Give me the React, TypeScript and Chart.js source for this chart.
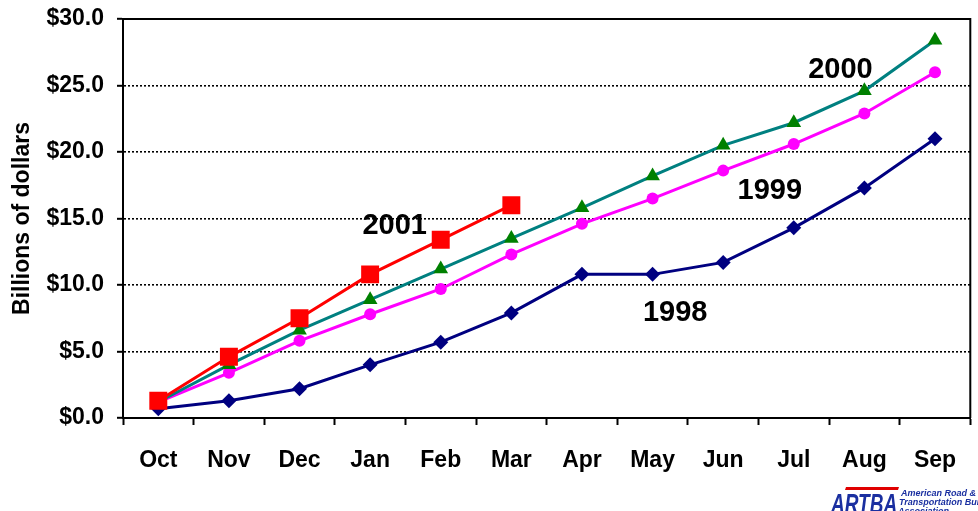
import React, { useEffect, useRef } from "react";
import { Chart, registerables } from "chart.js";

Chart.register(...registerables);

const months = ["Oct", "Nov", "Dec", "Jan", "Feb", "Mar", "Apr", "May", "Jun", "Jul", "Aug", "Sep"];
const values2001 = [1.3, 4.6, 7.5, 10.8, 13.4, 16.0];
const values2000 = [1.2, 4.0, 6.6, 8.9, 11.2, 13.5, 15.8, 18.2, 20.5, 22.2, 24.6, 28.4];
const values1999 = [1.2, 3.4, 5.8, 7.8, 9.7, 12.3, 14.6, 16.5, 18.6, 20.6, 22.9, 26.0];
const values1998 = [0.7, 1.3, 2.2, 4.0, 5.7, 7.9, 10.8, 10.8, 11.7, 14.3, 17.3, 21.0];
const yTicks = [0, 5, 10, 15, 20, 25, 30];
const seriesLabels = [
  { text: "2000", month: "Aug", value: 26.2, dx: -24 },
  { text: "1999", month: "Jul", value: 17.1, dx: -24 },
  { text: "2001", month: "Feb", value: 14.4, dx: -46 },
  { text: "1998", month: "Jun", value: 7.9, dx: -48 },
];

const FONT = "'Liberation Sans', Arial, sans-serif";

const decorPlugin = {
  id: "decor",
  afterDatasetsDraw(chart: any) {
    const { ctx, chartArea } = chart;
    const x = chart.scales.x;
    const y = chart.scales.y;
    ctx.save();
    ctx.strokeStyle = "#000";
    ctx.lineWidth = 2;
    ctx.beginPath();
    ctx.moveTo(chartArea.left, chartArea.top);
    ctx.lineTo(chartArea.right, chartArea.top);
    ctx.lineTo(chartArea.right, chartArea.bottom);
    ctx.stroke();
    ctx.fillStyle = "#000";
    ctx.font = `bold 29px ${FONT}`;
    ctx.textAlign = "center";
    ctx.textBaseline = "middle";
    seriesLabels.forEach((l) => {
      const idx = months.indexOf(l.month);
      ctx.fillText(l.text, x.getPixelForValue(idx) + l.dx, y.getPixelForValue(l.value));
    });
    ctx.restore();
  },
  afterDraw(chart: any) {
    const { ctx } = chart;
    ctx.save();
    ctx.fillStyle = "#e00000";
    ctx.beginPath();
    ctx.moveTo(846, 487);
    ctx.lineTo(899, 487);
    ctx.lineTo(898, 490);
    ctx.lineTo(845, 490);
    ctx.closePath();
    ctx.fill();
    ctx.fillStyle = "#1a2fa0";
    ctx.save();
    ctx.translate(831, 491);
    ctx.scale(1, 1.5);
    ctx.font = `italic bold 19px ${FONT}`;
    ctx.textAlign = "left";
    ctx.textBaseline = "top";
    ctx.fillText("ARTBA", 0, 0);
    ctx.restore();
    ctx.font = `italic bold 9px ${FONT}`;
    ctx.textAlign = "left";
    ctx.textBaseline = "alphabetic";
    ctx.fillText("American Road &", 901, 496);
    ctx.fillText("Transportation Builders", 899, 505);
    ctx.fillText("Association", 898, 514);
    ctx.restore();
  },
};

export default function App() {
  const ref = useRef<HTMLCanvasElement>(null);
  useEffect(() => {
    document.body.style.margin = "0";
    const chart = new Chart(ref.current!, {
      type: "line",
      data: {
        labels: months,
        datasets: [
          {
            label: "2001",
            data: values2001,
            borderColor: "#ff0000",
            backgroundColor: "#ff0000",
            borderWidth: 3,
            pointStyle: "rect",
            pointRadius: 12.7,
            pointBorderWidth: 0,
          },
          {
            label: "2000",
            data: values2000,
            borderColor: "#008080",
            backgroundColor: "#008000",
            pointBorderColor: "#008000",
            borderWidth: 3,
            pointStyle: "triangle",
            pointRadius: 8.5,
            pointBorderWidth: 0,
          },
          {
            label: "1999",
            data: values1999,
            borderColor: "#ff00ff",
            backgroundColor: "#ff00ff",
            borderWidth: 3,
            pointStyle: "circle",
            pointRadius: 6,
            pointBorderWidth: 0,
          },
          {
            label: "1998",
            data: values1998,
            borderColor: "#000080",
            backgroundColor: "#000080",
            borderWidth: 3,
            pointStyle: "rectRot",
            pointRadius: 7.5,
            pointBorderWidth: 0,
          },
        ],
      },
      options: {
        responsive: false,
        animation: false,
        devicePixelRatio: 1,
        layout: { padding: { top: 19, right: 8, left: 0, bottom: 0 } },
        plugins: { legend: { display: false }, tooltip: { enabled: false } },
        scales: {
          x: {
            type: "category",
            offset: true,
            afterFit: (s: any) => {
              s.height = 93;
              s.paddingLeft = 0;
              s.paddingRight = 0;
            },
            grid: {
              display: true,
              offset: true,
              drawOnChartArea: false,
              drawTicks: true,
              tickLength: 7,
              tickColor: "#000",
              tickWidth: 2,
            },
            border: { display: true, color: "#000", width: 2 },
            ticks: {
              color: "#000",
              font: { family: FONT, size: 23, weight: "bold" },
              padding: 22,
              maxRotation: 0,
              autoSkip: false,
            },
          },
          y: {
            min: 0,
            max: 30,
            afterFit: (s: any) => {
              s.width = 123;
              s.paddingTop = 0;
              s.paddingBottom = 0;
            },
            afterBuildTicks: (s: any) => {
              s.ticks = yTicks.map((v) => ({ value: v }));
            },
            grid: {
              color: (c: any) =>
                c.tick && (c.tick.value === 0 || c.tick.value === 30) ? "rgba(0,0,0,0)" : "#000",
              lineWidth: 1.6,
              tickBorderDash: [],
              tickColor: "#000",
              tickWidth: 2,
              tickLength: 6,
            },
            border: { display: true, color: "#000", width: 2, dash: [2, 2] },
            ticks: {
              color: "#000",
              font: { family: FONT, size: 23, weight: "bold" },
              padding: 13,
              callback: (v: any) => "$" + Number(v).toFixed(1),
            },
            title: {
              display: true,
              text: "Billions of dollars",
              color: "#000",
              font: { family: FONT, size: 23, weight: "bold" },
              padding: { top: 9, bottom: 0 },
            },
          },
        },
      },
      plugins: [decorPlugin],
    } as any);
    return () => chart.destroy();
  }, []);
  return (
    <div style={{ width: 978, height: 511, overflow: "hidden" }}>
      <canvas ref={ref} width={983} height={511} style={{ display: "block" }} />
    </div>
  );
}
